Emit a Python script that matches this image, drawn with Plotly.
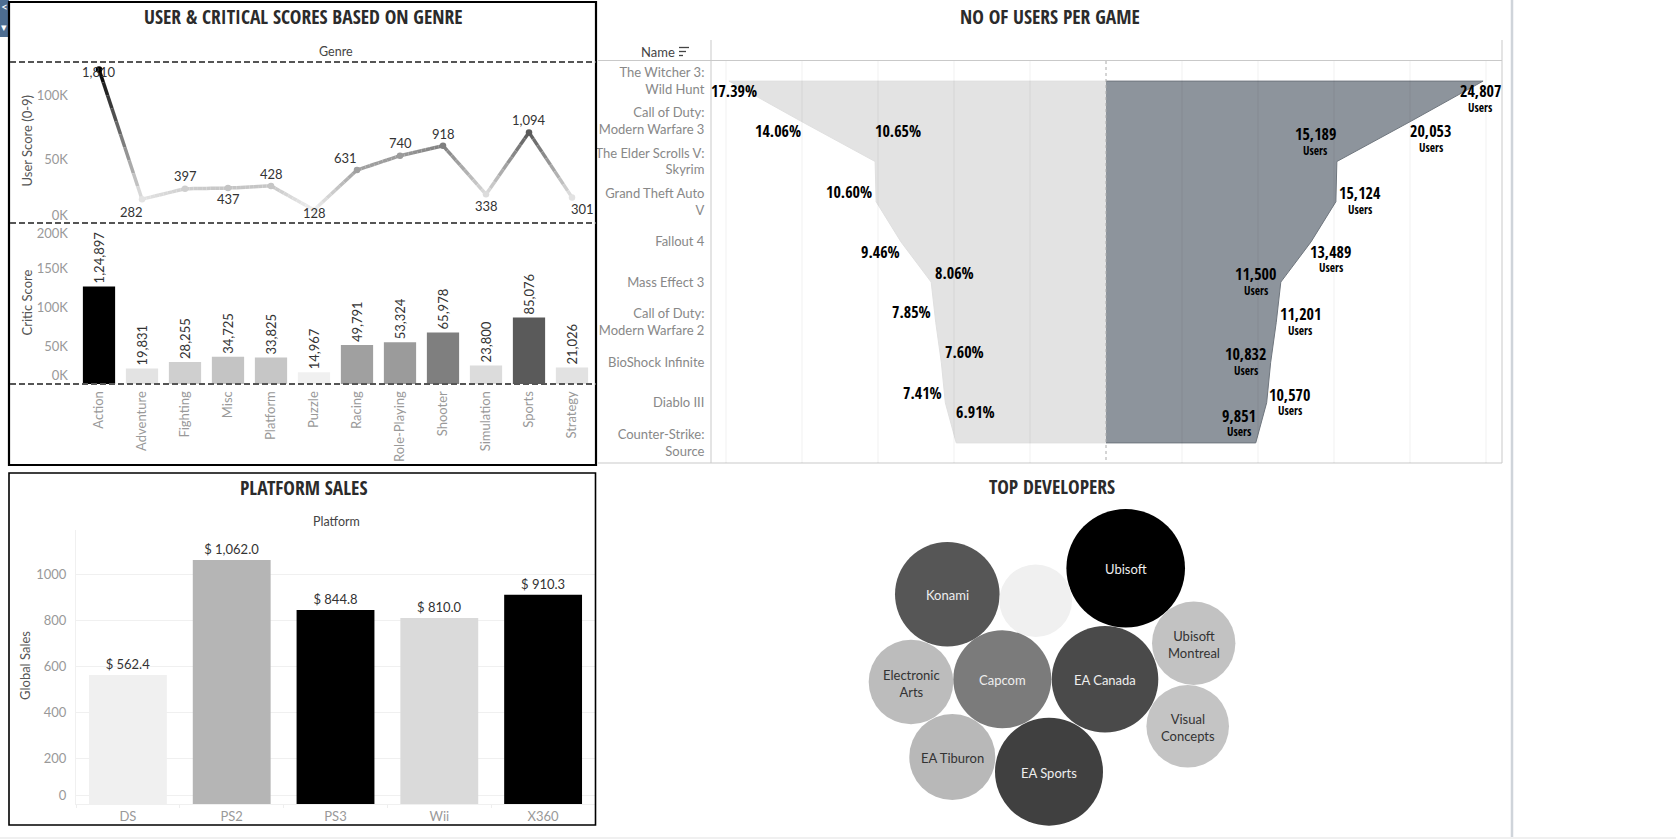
"""Video game dashboard rebuilt as one Plotly figure, laid out on the 1676x839 page."""
import plotly.graph_objects as go

W, H = 1676, 839
BOOK = "Lato"
HEAVY = "Open Sans Condensed"

# genre panel
genres = ["Action", "Adventure", "Fighting", "Misc", "Platform", "Puzzle", "Racing",
          "Role-Playing", "Shooter", "Simulation", "Sports", "Strategy"]
user_scores = [120000, 18600, 26800, 27300, 29000, 10200, 41400, 52600, 60400, 22400, 70800, 20000]
user_labels = ["1,810", "282", "397", "437", "428", "128", "631", "740", "918", "338", "1,094", "301"]
critic_scores = [124897, 19831, 28255, 34725, 33825, 14967, 49791, 53324, 65978, 23800, 85076, 21026]
critic_labels = ["1,24,897", "19,831", "28,255", "34,725", "33,825", "14,967", "49,791",
                 "53,324", "65,978", "23,800", "85,076", "21,026"]
genre_grey = [0, 227, 207, 196, 198, 240, 160, 155, 127, 220, 90, 226]

# funnel panel
games = ["The Witcher 3:<br>Wild Hunt", "Call of Duty:<br>Modern Warfare 3",
         "The Elder Scrolls V:<br>Skyrim", "Grand Theft Auto<br>V", "Fallout 4", "Mass Effect 3",
         "Call of Duty:<br>Modern Warfare 2", "BioShock Infinite", "Diablo III",
         "Counter-Strike:<br>Source"]
users = [24807, 20053, 15189, 15124, 13489, 11500, 11201, 10832, 10570, 9851]
user_share = ["17.39%", "14.06%", "10.65%", "10.60%", "9.46%", "8.06%", "7.85%", "7.60%", "7.41%", "6.91%"]
funnel_ticks = [-25000, -20000, -15000, -10000, -5000, 5000, 10000, 15000, 20000, 25000]

# platform panel
platforms = ["DS", "PS2", "PS3", "Wii", "X360"]
platform_sales = [562.4, 1062.0, 844.8, 810.0, 910.3]
platform_labels = ["$ 562.4", "$ 1,062.0", "$ 844.8", "$ 810.0", "$ 910.3"]
platform_colors = ["#f0f0f0", "#b5b5b5", "#000000", "#dadada", "#000000"]

# developer bubbles (the pale one has no label in the original)
developers = ["Ubisoft", "Konami", "", "Ubisoft<br>Montreal", "Electronic<br>Arts", "Capcom",
              "EA Canada", "Visual<br>Concepts", "EA Tiburon", "EA Sports"]
bubble_x = [1125.7, 947.3, 1035.7, 1193.7, 911, 1002.3, 1105, 1187.7, 952.3, 1049]
bubble_y = [568.3, 594.3, 600.7, 643.3, 682, 679.3, 679.3, 726.3, 757, 771.7]
bubble_size = [118.6, 104.6, 72.6, 83.4, 84.6, 98, 106.6, 82.6, 86, 108]
bubble_colors = ["#000000", "#565656", "#f0f0f0", "#c2c2c2", "#bcbcbc", "#7b7b7b",
                 "#4a4a4a", "#c4c4c4", "#b8b8b8", "#404040"]
bubble_text = ["#eeeeee", "#eeeeee", "#333333", "#333333", "#333333", "#eeeeee",
               "#eeeeee", "#333333", "#333333", "#eeeeee"]


def px(x):
    return x / W


def py(y):
    return 1 - y / H


def grey(v):
    v = int(round(v))
    return f"rgb({v},{v},{v})"


def note(x, y, text, size=13, color="#444444", family=BOOK, angle=0):
    return dict(xref="paper", yref="paper", x=px(x), y=py(y), text=text, showarrow=False,
                xanchor="center", yanchor="middle", textangle=angle,
                font=dict(size=size, color=color, family=family))


def title(x, y, text):
    return note(x, y, f"<b>{text}</b>", size=19.5, color="#2b2b2b", family=HEAVY)


def hline(y, x0, x1, color, width=1, dash="solid"):
    return dict(type="line", xref="paper", yref="paper", x0=px(x0), x1=px(x1), y0=py(y), y1=py(y),
                line=dict(color=color, width=width, dash=dash))


def vline(x, y0, y1, color, width=1):
    return dict(type="line", xref="paper", yref="paper", x0=px(x), x1=px(x), y0=py(y0), y1=py(y1),
                line=dict(color=color, width=width))


def box(x0, y0, x1, y1, width):
    return dict(type="rect", xref="paper", yref="paper", x0=px(x0), x1=px(x1), y0=py(y0), y1=py(y1),
                line=dict(color="#000000", width=width))


fig = go.Figure()

# Tableau fades the line between marks, plotly has no gradient on a 2d line,
# so every segment is drawn in short single-colour steps between the two real values
STEPS = 10
for a in range(len(genres) - 1):
    for s in range(STEPS):
        t0, t1 = s / STEPS, (s + 1) / STEPS
        y0 = user_scores[a] + (user_scores[a + 1] - user_scores[a]) * t0
        y1 = user_scores[a] + (user_scores[a + 1] - user_scores[a]) * t1
        shade = genre_grey[a] + (genre_grey[a + 1] - genre_grey[a]) * (t0 + t1) / 2
        fig.add_trace(go.Scatter(
            x=[a + t0, a + t1], y=[y0, y1], mode="lines", xaxis="x", yaxis="y",
            line=dict(color=grey(shade), width=3.5), hoverinfo="skip", showlegend=False,
        ))
fig.add_trace(go.Scatter(
    x=list(range(len(genres))), y=user_scores, mode="markers", xaxis="x", yaxis="y",
    marker=dict(size=6.5, color=[grey(v) for v in genre_grey]), showlegend=False,
))

fig.add_trace(go.Bar(
    x=genres, y=critic_scores, xaxis="x2", yaxis="y2", showlegend=False,
    marker=dict(color=[grey(v) for v in genre_grey], line=dict(width=0)),
    text=critic_labels, textposition="outside", textangle=-90, cliponaxis=False,
    constraintext="none", textfont=dict(size=13, color="#333333", family=BOOK),
))

# funnel: both halves are closed on the zero line
fig.add_trace(go.Scatter(
    x=[0] + [-u for u in users] + [0], y=[games[0]] + games + [games[-1]],
    xaxis="x3", yaxis="y3", mode="lines", fill="toself", fillcolor="#e3e3e3",
    line=dict(color="#e0e0e0", width=1), showlegend=False, hoverinfo="skip",
))
fig.add_trace(go.Scatter(
    x=[0] + users + [0], y=[games[0]] + games + [games[-1]],
    xaxis="x3", yaxis="y3", mode="lines", fill="toself", fillcolor="#8d949c",
    line=dict(color="#6f767e", width=1), showlegend=False, hoverinfo="skip",
))

fig.add_trace(go.Bar(
    x=platforms, y=platform_sales, xaxis="x4", yaxis="y4", showlegend=False,
    marker=dict(color=platform_colors, line=dict(width=0)),
    text=platform_labels, textposition="outside", cliponaxis=False, constraintext="none",
    textfont=dict(size=13, color="#333333", family=BOOK),
))

fig.add_trace(go.Scatter(
    x=bubble_x, y=bubble_y, xaxis="x5", yaxis="y5", mode="markers", showlegend=False,
    marker=dict(size=bubble_size, color=bubble_colors, line=dict(width=0), opacity=1),
))

annotations = [
    title(303, 17, "USER &amp; CRITICAL SCORES BASED ON GENRE"),
    title(1050, 17, "NO OF USERS PER GAME"),
    title(303, 487, "PLATFORM SALES"),
    title(1052, 486, "TOP DEVELOPERS"),
    note(336, 52, "Genre", size=12.5),
    note(26.5, 140, "User Score (0-9)", size=13, color="#555555", angle=-90),
    note(26.5, 302, "Critic Score", size=13, color="#555555", angle=-90),
    note(336, 521, "Platform", size=12.5),
    note(25, 666, "Global Sales", size=13, color="#555555", angle=-90),
    note(658, 52, "Name", size=13),
    note(4, 7, "&lt;", size=12, color="#ffffff"),
    note(4, 27, "▾", size=11, color="#ffffff"),
]

# label offsets from their point, in pixels
line_dx = [0, -11, 0, 0, 0, 0, -11.5, 0, 0, 0, 0, 10]
line_dy = [3, 12.7, -13, 11, -12, 3, -12, -13, -12, 12, -12.6, 12]
for i, lab in enumerate(user_labels):
    annotations.append(dict(
        xref="x", yref="y", x=i, y=user_scores[i], text=lab, showarrow=False,
        xshift=line_dx[i], yshift=-line_dy[i], font=dict(size=13, color="#333333", family=BOOK),
    ))

share_dx = [5, -23, 23, -27, -20, 23, -24, 23, -23, 19]
share_dy = [10, 10, -30.5, -9.7, 10, -9, -10, -10.5, -10, -31]
count_dx = [-3, 20, -21.5, 24, 19.5, -25, 24, -25, 23, -17]
count_dy = [10, 10, -27.5, -8.7, 10, -8, -8, -8.5, -8, -27]
for i, game in enumerate(games):
    annotations.append(dict(
        xref="x3", yref="y3", x=-users[i], y=game, text=f"<b>{user_share[i]}</b>", showarrow=False,
        xshift=share_dx[i], yshift=-share_dy[i], font=dict(size=16, color="#000000", family=HEAVY),
    ))
    annotations.append(dict(
        xref="x3", yref="y3", x=users[i], y=game, text=f"<b>{users[i]:,}</b>", showarrow=False,
        xshift=count_dx[i], yshift=-count_dy[i], font=dict(size=16, color="#000000", family=HEAVY),
    ))
    annotations.append(dict(
        xref="x3", yref="y3", x=users[i], y=game, text="<b>Users</b>", showarrow=False,
        xshift=count_dx[i], yshift=-count_dy[i] - 16, font=dict(size=11.5, color="#000000", family=HEAVY),
    ))

# bubble captions sit a touch below the marker centre
for i, dev in enumerate(developers):
    if dev:
        annotations.append(dict(
            xref="x5", yref="y5", x=bubble_x[i], y=bubble_y[i], text=dev, showarrow=False,
            yshift=-1, font=dict(size=13, color=bubble_text[i], family=BOOK),
        ))

DASH = "6px,3px"
shapes = [
    dict(type="rect", xref="paper", yref="paper", x0=px(0), x1=px(9), y0=py(0), y1=py(37),
         fillcolor="#4d6d91", line=dict(width=0)),
    dict(type="rect", xref="paper", yref="paper", x0=px(0), x1=px(W), y0=py(837), y1=py(H),
         fillcolor="#f0f0f0", line=dict(width=0)),
    box(9, 2, 596, 465, 2.2),
    box(9, 473, 595.5, 825, 1.6),
    hline(62, 10, 596, "#555555", 2, DASH),
    hline(223, 10, 596, "#555555", 2, DASH),
    hline(384, 10, 596, "#555555", 2, DASH),
    hline(60.5, 598, 1502, "#c9c9c9"),
    hline(463, 598, 1502, "#c9c9c9"),
    vline(711, 40, 463, "#c9c9c9"),
    vline(1502, 40, 463, "#c9c9c9"),
    vline(1512, 0, 837, "#cfd4da", 2.5),
    dict(type="line", xref="x3", yref="paper", x0=0, x1=0, y0=py(61), y1=py(463),
         line=dict(color="#aaaaaa", width=1, dash="dot")),
    # sort icon next to Name
    hline(47.5, 679, 689, "#444444", 1.3),
    hline(51.5, 679, 686, "#444444", 1.3),
    hline(55.5, 679, 683, "#444444", 1.3),
]
for tick in funnel_ticks:
    shapes.append(dict(type="line", xref="x3", yref="paper", x0=tick, x1=tick, y0=py(61), y1=py(463),
                       line=dict(color="rgba(0,0,0,0.06)", width=1)))

tick_font = dict(size=13, color="#999999", family=BOOK)
PX_PER_USER = 0.0152

fig.update_layout(
    width=W, height=H, margin=dict(l=0, r=0, t=0, b=0), autosize=False,
    paper_bgcolor="#ffffff", plot_bgcolor="rgba(0,0,0,0)", bargap=0.25, showlegend=False,
    annotations=annotations, shapes=shapes,
    xaxis=dict(domain=[px(77.5), px(593.5)], range=[-0.5, 11.5], anchor="y", visible=False),
    yaxis=dict(domain=[py(223), py(62)], range=[0, 125800], anchor="x", showgrid=False, zeroline=False,
               tickvals=[6000, 49800, 99800], ticktext=["0K", "50K", "100K"], tickfont=tick_font,
               ticks="outside", ticklen=6, tickcolor="rgba(0,0,0,0)"),
    xaxis2=dict(domain=[px(77.5), px(593.5)], anchor="y2", type="category", tickangle=-90,
                categoryorder="array", categoryarray=genres, range=[-0.5, 11.5],
                tickfont=tick_font, showgrid=False, zeroline=False, ticks="outside", ticklen=1,
                tickcolor="rgba(0,0,0,0)"),
    yaxis2=dict(domain=[py(384), py(223)], range=[0, 206000], anchor="x2", showgrid=False, zeroline=False,
                tickvals=[10500, 48500, 98500, 148500, 193000],
                ticktext=["0K", "50K", "100K", "150K", "200K"], tickfont=tick_font,
                ticks="outside", ticklen=6, tickcolor="rgba(0,0,0,0)"),
    xaxis3=dict(domain=[px(711), px(1502)], range=[(711 - 1106) / PX_PER_USER, (1502 - 1106) / PX_PER_USER],
                anchor="y3", showticklabels=False, showgrid=False, zeroline=False),
    yaxis3=dict(domain=[py(463), py(61)], anchor="x3", type="category", categoryorder="array",
                categoryarray=games, range=[9.5, -0.5], showgrid=False, zeroline=False,
                tickfont=dict(size=13, color="#888888", family=BOOK),
                ticks="outside", ticklen=3, tickcolor="rgba(0,0,0,0)"),
    xaxis4=dict(domain=[px(76), px(595)], anchor="y4", type="category", tickfont=tick_font,
                tickson="boundaries", ticks="outside", ticklen=3, tickcolor="#eeeeee",
                showgrid=False, showline=True, linecolor="#f0f0f0", zeroline=False),
    yaxis4=dict(domain=[py(804.3), py(530)], range=[0, 1192], anchor="x4", gridcolor="#f0f0f0",
                showline=True, linecolor="#f0f0f0", zeroline=False,
                tickvals=[40, 200, 400, 600, 800, 1000], ticktext=["0", "200", "400", "600", "800", "1000"],
                tickfont=tick_font, ticks="outside", ticklen=6, tickcolor="rgba(0,0,0,0)"),
    xaxis5=dict(domain=[px(840), px(1270)], range=[840, 1270], anchor="y5", visible=False),
    yaxis5=dict(domain=[py(835), py(470)], range=[835, 470], anchor="x5", visible=False),
)

fig.write_html("out.html", config={"displayModeBar": False},
               post_script="document.body.style.margin='0';")
